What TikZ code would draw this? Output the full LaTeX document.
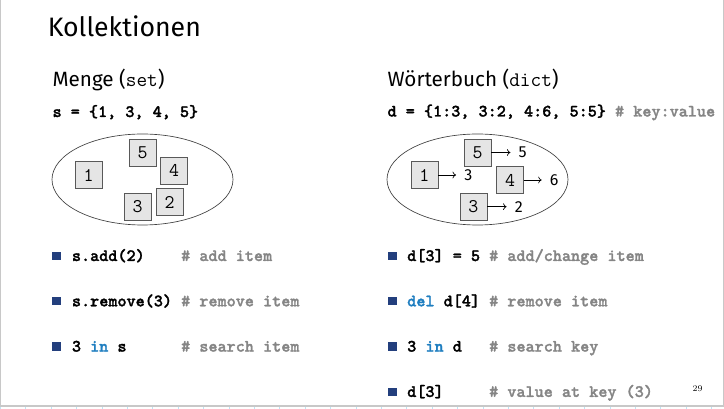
\documentclass[tikz,border=0pt]{standalone}
\usepackage{fontspec}
\setsansfont{Fira Sans}
\newfontfamily\codefont{lmmonolt10-bold.otf}[FakeBold=1.6]
\usepackage{tikz}
\usetikzlibrary{arrows.meta, positioning}

\definecolor{bulletblau}{HTML}{233F7D}
\definecolor{kwblau}{HTML}{1F7EC0}
\definecolor{kommentar}{HTML}{858585}
\definecolor{rahmen}{HTML}{C8C8C8}
\definecolor{raster}{HTML}{BFE3F5}

\tikzset{
  kasten/.style={draw=black!65, fill=black!10, minimum size=20.25pt, inner sep=0pt,
    font=\fontsize{14.5}{14.5}\selectfont\ttfamily},
  wert/.style={inner sep=0pt, font=\fontsize{12}{12}\selectfont\sffamily},
  code/.style={anchor=base west, inner sep=0pt,
    font=\fontsize{13}{13}\selectfont\codefont},
  ueber/.style={anchor=base west, inner sep=0pt,
    font=\fontsize{15.5}{15.5}\selectfont\sffamily},
  punkt/.style={fill=bulletblau, minimum size=6.3pt, inner sep=0pt},
  pfeil/.style={-{To[length=2.6pt,width=5pt]}, line width=0.5pt, shorten >=6pt},
}
\newcommand{\kw}[1]{\textcolor{kwblau}{#1}}
\newcommand{\kom}[1]{\textcolor{kommentar}{#1}}

\begin{document}
\begin{tikzpicture}[x=0.75pt, y=-0.75pt]
            \useasboundingbox (0,0) rectangle (724,409);

            % Rahmen der Folie
            \draw[rahmen, line width=0.75pt] (0.5,0) -- (0.5,405.5);
            \draw[rahmen, line width=0.75pt] (723.3,0) -- (723.3,405.5);
            \draw[rahmen, line width=1.5pt] (0,405.5) -- (724,405.5);
            \foreach \x in {0.5,25.9,...,724}
              \draw[raster, line width=0.75pt] (\x,407) -- (\x,409);

            % Titel
            \node[anchor=base west, inner sep=0pt, font=\fontsize{20}{20}\selectfont\sffamily]
              (titel) at (47.5,36.7) {Kollektionen};

            % Menge
            \node[ueber] (menge) at (52.3,87) {Menge (\texttt{set})};
            \node[code] (mengecode) at (52.3,117) {s = \{1, 3, 4, 5\}};

            \draw[black!75, line width=0.5pt] (142.5,179.5) ellipse [x radius=90.5, y radius=45.5];
            \node[kasten] (m1) at (88.5,175) {1};
            \node[kasten] (m5) at (142.5,152.5) {5};
            \node[kasten] (m4) at (174,170.5) {4};
            \node[kasten] (m3) at (137.5,206.5) {3};
            \node[kasten] (m2) at (169.5,202) {2};

            \node[punkt] (mp1) at (56.5,256) {};
            \node[code] (ma1) at (71.7,261) {s.add(2)~~~~\kom{\#~add~item}};
            \node[punkt] (mp2) at (56.5,301.3) {};
            \node[code] (ma2) at (71.7,306.3) {s.remove(3)~\kom{\#~remove~item}};
            \node[punkt] (mp3) at (56.5,346.6) {};
            \node[code] (ma3) at (71.7,351.6) {3 \kw{in} s~~~~~~\kom{\#~search~item}};

            % Woerterbuch
            \node[ueber] (dict) at (387.3,87) {Wörterbuch (\texttt{dict})};
            \node[code] (dictcode) at (387.3,116.5) {d = \{1:3, 3:2, 4:6, 5:5\} \kom{\#~key:value}};

            \draw[black!75, line width=0.5pt] (477.5,179.5) ellipse [x radius=90.5, y radius=45.5];
            \node[kasten] (k1) at (424.3,175) {1};
            \node[kasten] (k5) at (477.7,152.5) {5};
            \node[kasten] (k4) at (510,180) {4};
            \node[kasten] (k3) at (473.3,206.7) {3};
            \node[wert] (w1) at (468.3,175) {3};
            \node[wert] (w5) at (522.7,152.5) {5};
            \node[wert] (w4) at (554.2,180) {6};
            \node[wert] (w3) at (518.8,206.7) {2};
            \draw[pfeil] (k1.east) -- (w1.west);
            \draw[pfeil] (k5.east) -- (w5.west);
            \draw[pfeil] (k4.east) -- (w4.west);
            \draw[pfeil] (k3.east) -- (w3.west);

            \node[punkt] (dp1) at (392.5,256) {};
            \node[code] (da1) at (407,261) {d[3] = 5 \kom{\#~add/change~item}};
            \node[punkt] (dp2) at (392.5,301.3) {};
            \node[code] (da2) at (407,306.3) {\kw{del} d[4] \kom{\#~remove~item}};
            \node[punkt] (dp3) at (392.5,346.6) {};
            \node[code] (da3) at (407,351.6) {3 \kw{in} d~~~\kom{\#~search~key}};
            \node[punkt] (dp4) at (392.5,391.9) {};
            \node[code] (da4) at (407,396.9) {d[3]~~~~~\kom{\#~value~at~key~(3)}};

            % Seitenzahl
            \node[anchor=base, inner sep=0pt, font=\fontsize{6.5}{6.5}\selectfont\rmfamily]
              (seite) at (697.5,391) {29};

\end{tikzpicture}
\end{document}
